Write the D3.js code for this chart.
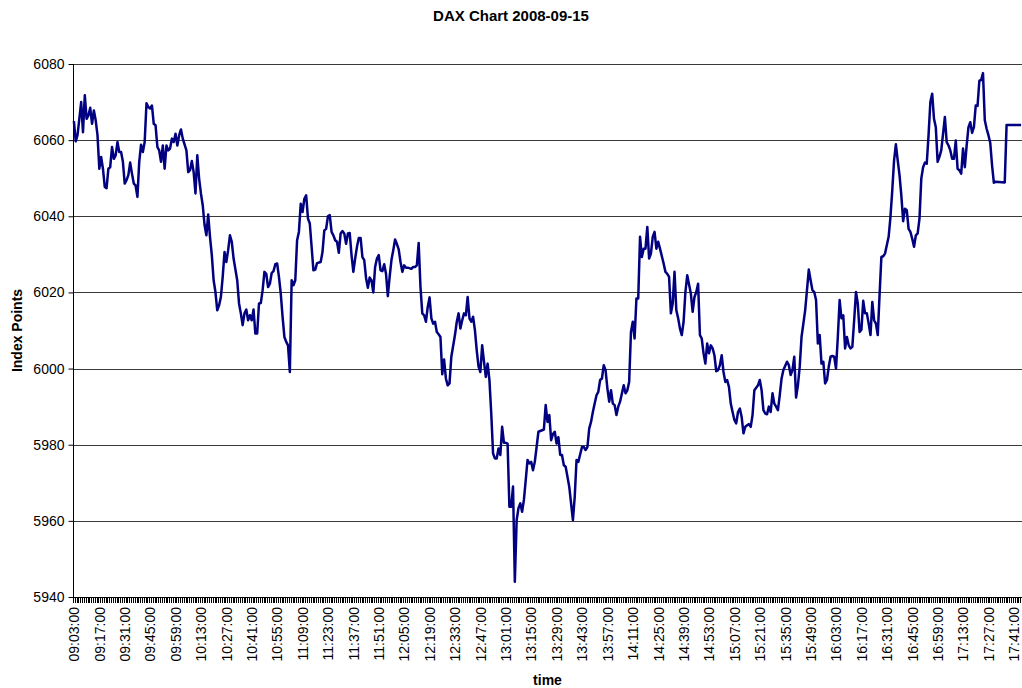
<!DOCTYPE html>
<html>
<head>
<meta charset="utf-8">
<script src="https://cdn.jsdelivr.net/npm/d3@7"></script>
<style>
  body { margin: 0; background: #fff; }
  svg { display: block; font-family: "Liberation Sans", Arial, sans-serif; }
  .tick_label { font-size: 14px; fill: #000; }
  .axis_title { font-size: 14px; font-weight: bold; fill: #000; }
</style>
</head>
<body>
<div id="chart"></div>
<script>
var title = "DAX Chart 2008-09-15";
var yLabel = "Index Points";
var xLabel = "time";

// trading session: first quote at 09:03, one category per minute
var sessionStart = "09:03";
var sessionMinutes = 523;

var yTicks = [5940, 5960, 5980, 6000, 6020, 6040, 6060, 6080];
var gridValues = [5960, 5980, 6000, 6020, 6040, 6060, 6080];

var xTickLabels = ["09:03:00", "09:17:00", "09:31:00", "09:45:00", "09:59:00", "10:13:00",
  "10:27:00", "10:41:00", "10:55:00", "11:09:00", "11:23:00", "11:37:00", "11:51:00",
  "12:05:00", "12:19:00", "12:33:00", "12:47:00", "13:01:00", "13:15:00", "13:29:00",
  "13:43:00", "13:57:00", "14:11:00", "14:25:00", "14:39:00", "14:53:00", "15:07:00",
  "15:21:00", "15:35:00", "15:49:00", "16:03:00", "16:17:00", "16:31:00", "16:45:00",
  "16:59:00", "17:13:00", "17:27:00", "17:41:00"];

// [minutes after 09:03, index points]
var dax = [
  [0,6065.0],[1,6059.7],[2,6061.3],[4,6070.0],[5,6062.1],[6,6071.8],[7,6065.6],[8,6066.5],[9,6068.5],
  [10,6064.3],[11,6067.8],[12,6065.2],[13,6061.3],[14,6052.5],[15,6055.6],[16,6052.5],[17,6047.7],
  [18,6047.4],[19,6052.5],[20,6052.9],[21,6058.2],[22,6055.1],[23,6056.0],[24,6059.5],[25,6056.9],
  [26,6056.9],[27,6054.3],[28,6048.6],[29,6049.5],[30,6050.8],[31,6054.1],[32,6051.2],[33,6048.6],
  [34,6048.1],[35,6045.1],[36,6054.3],[37,6058.8],[38,6056.9],[39,6059.5],[40,6069.7],[41,6068.7],
  [42,6068.3],[43,6069.1],[44,6064.3],[45,6063.9],[46,6058.2],[47,6057.3],[48,6054.3],[49,6058.6],
  [50,6052.5],[51,6058.6],[52,6057.3],[53,6057.8],[54,6060.4],[55,6059.5],[56,6061.7],[57,6058.6],
  [58,6061.3],[59,6062.8],[60,6060.4],[62,6057.3],[63,6051.6],[64,6052.1],[65,6054.5],[66,6051.6],
  [67,6046.0],[68,6056.0],[69,6049.9],[70,6046.0],[71,6042.9],[72,6037.7],[73,6035.0],[74,6040.5],
  [75,6034.6],[76,6029.8],[77,6023.2],[78,6020.1],[79,6015.3],[80,6016.6],[81,6018.8],[82,6024.1],
  [83,6030.6],[84,6028.0],[85,6031.1],[86,6035.0],[87,6033.3],[88,6028.9],[90,6023.2],[91,6017.1],
  [92,6014.5],[93,6011.4],[94,6014.5],[95,6015.5],[96,6012.7],[97,6014.0],[98,6012.7],[99,6015.5],
  [100,6009.2],[101,6009.2],[102,6017.1],[103,6017.2],[104,6020.6],[105,6025.4],[106,6024.9],
  [107,6021.4],[108,6022.3],[109,6025.1],[110,6025.6],[111,6027.4],[112,6027.6],[113,6024.1],
  [114,6019.7],[115,6013.6],[116,6008.3],[117,6007.0],[118,6006.1],[119,5999.1],[120,6023.2],
  [121,6021.9],[122,6023.2],[123,6033.7],[124,6035.9],[125,6043.3],[126,6041.1],[127,6044.6],
  [128,6045.5],[129,6039.4],[130,6038.1],[131,6032.0],[132,6025.8],[133,6026.0],[134,6027.7],
  [136,6028.0],[137,6030.6],[138,6036.3],[139,6036.7],[140,6040.0],[141,6040.3],[142,6035.9],
  [143,6035.0],[144,6033.7],[145,6033.3],[146,6030.4],[147,6035.5],[148,6036.1],[149,6035.5],
  [150,6032.8],[151,6035.5],[152,6035.6],[153,6029.8],[154,6025.4],[155,6028.9],[156,6032.0],
  [157,6034.3],[158,6034.3],[159,6029.3],[160,6028.5],[161,6023.8],[162,6021.2],[163,6023.9],
  [164,6023.2],[165,6020.0],[166,6026.7],[167,6028.9],[168,6029.8],[169,6025.8],[170,6025.6],
  [171,6027.4],[172,6024.9],[173,6019.0],[174,6024.1],[175,6028.5],[176,6031.1],[177,6033.9],
  [178,6032.7],[179,6031.3],[180,6028.0],[181,6025.4],[182,6027.1],[183,6026.5],[184,6026.5],
  [186,6026.2],[187,6026.7],[188,6026.7],[189,6027.1],[190,6033.0],[191,6021.4],[192,6014.5],
  [193,6014.0],[194,6012.3],[195,6016.2],[196,6018.7],[197,6013.2],[198,6011.8],[199,6012.3],
  [200,6009.6],[201,6009.0],[202,6008.3],[203,5998.5],[204,6002.4],[205,5997.4],[206,5995.6],
  [207,5996.1],[208,6003.1],[210,6008.8],[211,6012.3],[212,6014.5],[213,6010.5],[214,6012.7],
  [215,6014.5],[216,6014.0],[217,6018.8],[218,6013.2],[219,6012.3],[220,6013.6],[221,6010.1],
  [222,6004.8],[223,6000.5],[224,5999.1],[225,6006.1],[226,6001.8],[227,5997.8],[228,6001.3],
  [229,5997.0],[230,5988.2],[231,5977.7],[232,5976.4],[233,5976.4],[234,5979.0],[235,5977.3],
  [236,5984.7],[237,5980.5],[238,5980.5],[239,5980.3],[240,5963.7],[241,5963.7],[242,5969.0],
  [243,5944.0],[244,5960.2],[245,5963.3],[246,5964.6],[247,5962.4],[248,5965.5],[249,5970.7],
  [250,5976.0],[251,5975.1],[252,5975.5],[253,5973.3],[254,5975.5],[255,5979.4],[256,5983.4],
  [258,5983.8],[259,5984.0],[260,5990.4],[261,5986.0],[262,5987.8],[263,5981.2],[264,5982.8],
  [265,5983.4],[266,5980.3],[267,5982.0],[268,5977.3],[269,5977.3],[270,5974.6],[271,5974.2],
  [272,5971.6],[273,5968.9],[275,5960.2],[276,5966.3],[277,5976.0],[278,5975.5],[280,5979.4],
  [281,5979.4],[282,5978.6],[283,5979.4],[284,5984.3],[285,5986.0],[286,5988.6],[287,5990.8],
  [288,5993.0],[289,5993.9],[290,5997.0],[291,5997.4],[292,6000.9],[293,5999.6],[294,5994.8],
  [295,5991.3],[296,5994.3],[297,5990.8],[298,5990.4],[299,5987.8],[300,5990.0],[301,5991.3],
  [303,5995.6],[304,5993.5],[305,5994.3],[306,5996.5],[307,6009.6],[308,6012.3],[309,6007.9],
  [310,6018.4],[311,6018.4],[312,6034.6],[313,6029.3],[314,6031.5],[315,6031.5],[316,6037.2],
  [317,6028.9],[318,6030.2],[319,6034.6],[320,6035.9],[321,6031.5],[322,6033.3],[323,6031.5],
  [325,6027.6],[326,6025.4],[327,6024.9],[328,6024.1],[329,6014.5],[330,6017.1],[331,6025.4],
  [332,6015.3],[333,6013.2],[334,6010.5],[335,6008.8],[336,6012.3],[337,6020.1],[338,6024.5],
  [340,6019.7],[341,6014.9],[342,6018.8],[343,6020.1],[344,6022.3],[345,6008.8],[346,6007.9],
  [347,6004.0],[348,6001.3],[349,6006.6],[350,6004.0],[351,6006.1],[352,6005.3],[353,6003.5],
  [354,5999.3],[355,5999.6],[356,6000.9],[357,6003.5],[358,5999.1],[359,5996.5],[360,5997.0],
  [361,5995.2],[362,5990.8],[363,5988.6],[364,5986.5],[365,5985.6],[366,5988.6],[367,5989.5],
  [368,5987.3],[369,5983.0],[370,5984.7],[371,5985.1],[372,5985.4],[373,5984.7],[374,5987.8],
  [375,5994.3],[377,5995.6],[378,5997.0],[379,5994.3],[380,5989.1],[381,5988.2],[382,5988.0],
  [383,5990.0],[384,5988.6],[385,5993.5],[386,5990.8],[387,5990.0],[388,5989.1],[389,5993.0],
  [390,5997.4],[391,5999.6],[393,6001.8],[394,6000.9],[395,5998.3],[396,5999.6],[397,6003.1],
  [398,5992.4],[399,5995.6],[400,6000.5],[401,6008.3],[403,6015.3],[404,6020.6],[405,6026.0],
  [406,6023.2],[407,6020.6],[408,6020.1],[409,6018.0],[410,6006.6],[411,6008.8],[412,6001.3],
  [413,6001.8],[414,5996.1],[415,5997.0],[416,6000.5],[417,6003.1],[418,6003.3],[419,6003.1],
  [420,6000.0],[421,6008.3],[422,6018.0],[423,6013.2],[424,6014.0],[425,6005.3],[426,6008.3],
  [427,6006.1],[428,6005.3],[429,6005.7],[430,6012.7],[431,6020.1],[432,6017.1],[433,6009.6],
  [434,6010.2],[435,6017.8],[436,6014.5],[437,6014.5],[438,6011.8],[439,6008.8],[440,6017.5],
  [441,6012.7],[442,6011.8],[443,6008.8],[444,6019.3],[445,6029.3],[446,6029.5],[447,6030.2],
  [448,6032.4],[449,6034.6],[450,6039.8],[451,6046.8],[452,6054.7],[453,6058.9],[454,6054.7],
  [455,6050.8],[456,6045.5],[457,6038.7],[458,6042.0],[459,6041.6],[460,6036.7],[461,6035.9],
  [462,6034.1],[463,6032.0],[464,6035.0],[465,6035.5],[466,6039.4],[467,6049.9],[468,6052.9],
  [469,6054.1],[470,6053.8],[471,6061.3],[472,6070.0],[473,6072.2],[474,6065.6],[475,6063.4],
  [476,6054.3],[477,6055.6],[478,6057.3],[479,6061.7],[480,6066.1],[481,6059.5],[482,6058.6],
  [483,6057.3],[484,6055.1],[485,6055.1],[486,6059.9],[487,6052.5],[488,6052.1],[489,6051.2],
  [490,6057.8],[491,6052.9],[492,6058.6],[493,6063.4],[494,6064.7],[495,6061.9],[496,6063.4],
  [497,6069.1],[498,6069.0],[499,6075.6],[500,6075.8],[501,6077.6],[502,6065.2],[503,6063.0],
  [504,6061.3],[505,6059.3],[506,6053.4],[507,6048.8],[508,6049.1],[513,6048.9],[514,6064.0],
  [522,6064.0]
];

var width = 1022;
var height = 688;
var margin = {top: 64, right: 0, bottom: 91, left: 73};

function minutesAfterStart(label) {
  var a = label.split(":"), b = sessionStart.split(":");
  return (+a[0] * 60 + +a[1]) - (+b[0] * 60 + +b[1]);
}

var svg = d3.select("#chart")
            .append("svg")
            .attr("width", width)
            .attr("height", height);

// category axis: each minute is a slot, points sit in the slot centre
var x = d3.scaleLinear()
          .domain([-0.5, sessionMinutes - 0.5])
          .range([margin.left, width - margin.right]);
var y = d3.scaleLinear()
          .domain([yTicks[0], yTicks[yTicks.length - 1]])
          .range([height - margin.bottom, margin.top]);

// horizontal grid
svg.append("g")
   .selectAll("line")
   .data(gridValues)
   .enter()
   .append("line")
   .attr("x1", margin.left)
   .attr("x2", width - margin.right)
   .attr("y1", function(d) { return Math.round(y(d)) + 0.5; })
   .attr("y2", function(d) { return Math.round(y(d)) + 0.5; })
   .attr("stroke", "#3a3a3a")
   .attr("stroke-width", 1);

// dense category ticks along the bottom
var xAxis = d3.axisBottom(x)
              .tickValues(d3.range(-0.5, sessionMinutes, 1))
              .tickSize(5)
              .tickFormat("");
var gx = svg.append("g")
            .attr("transform", "translate(0," + (Math.round(y(yTicks[0])) + 0.5) + ")")
            .call(xAxis);
gx.select(".domain").remove();
gx.selectAll(".tick line").attr("stroke", "#000").attr("shape-rendering", "crispEdges");
gx.append("line")
  .attr("x1", margin.left)
  .attr("x2", width - margin.right)
  .attr("stroke", "#000");

svg.append("g")
   .selectAll("text")
   .data(xTickLabels)
   .enter()
   .append("text")
   .attr("class", "tick_label")
   .attr("transform", function(d) { return "translate(" + x(minutesAfterStart(d)) + "," + (height - margin.bottom + 10) + ") rotate(-90)"; })
   .attr("text-anchor", "end")
   .attr("dy", "0.38em")
   .text(function(d) { return d; });

// value axis
var yAxis = d3.axisLeft(y)
              .tickValues(yTicks)
              .tickSize(5)
              .tickPadding(4)
              .tickFormat(d3.format("d"));
var gy = svg.append("g")
            .attr("transform", "translate(" + (margin.left + 0.5) + ",0)")
            .call(yAxis);
gy.select(".domain").attr("d", "M0," + (margin.top) + "V" + (height - margin.bottom + 1));
gy.selectAll(".tick text")
  .attr("class", "tick_label")
  .style("font-size", "14px")
  .style("font-family", "'Liberation Sans', Arial, sans-serif");

// series
var line = d3.line()
             .x(function(d) { return x(d[0]); })
             .y(function(d) { return y(d[1]); });

svg.append("path")
   .datum(dax)
   .attr("d", line)
   .attr("fill", "none")
   .attr("stroke", "#000080")
   .attr("stroke-width", 2.5)
   .attr("stroke-linejoin", "round");

// titles
svg.append("text")
   .attr("x", width / 2)
   .attr("y", 20.5)
   .attr("text-anchor", "middle")
   .style("font-size", "15px")
   .style("font-weight", "bold")
   .text(title);

svg.append("text")
   .attr("class", "axis_title")
   .attr("transform", "translate(22," + ((margin.top + height - margin.bottom) / 2) + ") rotate(-90)")
   .attr("text-anchor", "middle")
   .text(yLabel);

svg.append("text")
   .attr("class", "axis_title")
   .attr("x", (margin.left + width - margin.right) / 2)
   .attr("y", 685)
   .attr("text-anchor", "middle")
   .text(xLabel);
</script>
</body>
</html>
